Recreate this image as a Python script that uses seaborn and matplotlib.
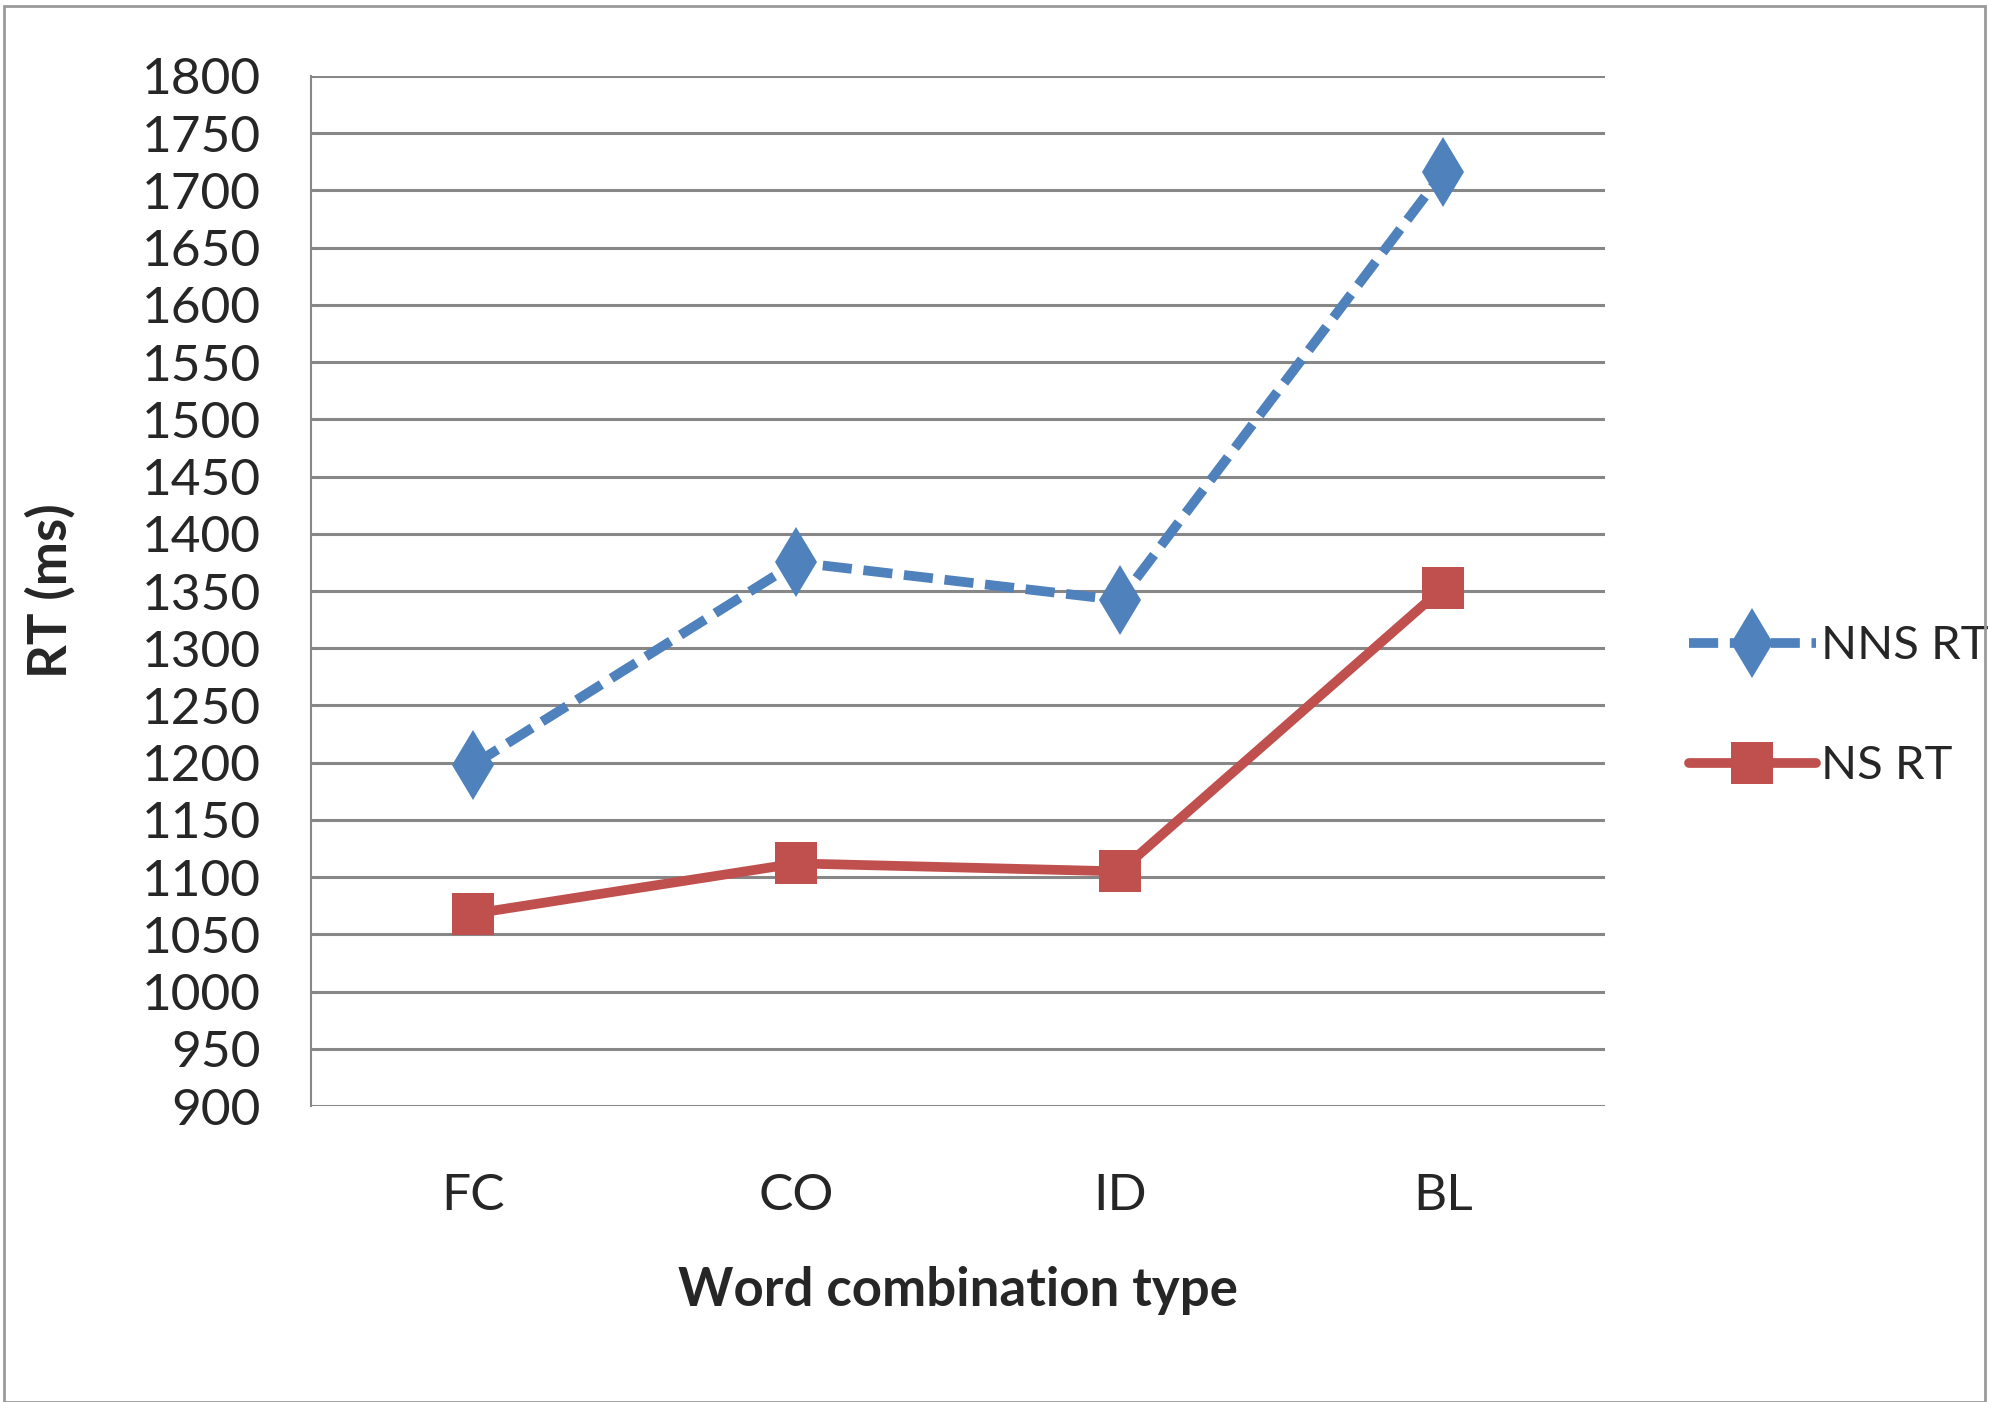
import pandas as pd
import matplotlib.pyplot as plt
import seaborn as sns
from matplotlib.patches import Rectangle

# values
word_types = ['FC', 'CO', 'ID', 'BL']
nns_rt = [1198, 1375, 1342, 1716]
ns_rt = [1068, 1112, 1105, 1353]
y_ticks = list(range(900, 1801, 50))

df = pd.DataFrame({
    'type': word_types * 2,
    'rt': nns_rt + ns_rt,
    'group': ['NNS RT'] * 4 + ['NS RT'] * 4,
})
df['pos'] = df['type'].map({t: i for i, t in enumerate(word_types)})

sns.set_style('white')
plt.rcParams['font.family'] = ['Lato', 'DejaVu Sans']

fig = plt.figure(figsize=(19.89, 14.02), dpi=100)
ax = fig.add_axes([0.1564, 0.2111, 0.6506, 0.7347])

# gridlines
for v in y_ticks:
    ax.axhline(v, color='#878787', lw=2.2, zorder=0)

sns.lineplot(data=df[df.group == 'NNS RT'], x='pos', y='rt', ax=ax,
             color='#4F81BD', lw=7, linestyle=(0, (3, 1.2)),
             marker='d', markersize=36, markeredgewidth=0,
             label='NNS RT', zorder=3)
sns.lineplot(data=df[df.group == 'NS RT'], x='pos', y='rt', ax=ax,
             color='#C0504D', lw=7, marker='s', markersize=30,
             markeredgewidth=0, label='NS RT', zorder=3)

ax.set_xlim(-0.5, 3.5)
ax.set_ylim(900, 1800)
ax.set_xticks(range(len(word_types)))
ax.set_xticklabels(word_types)
ax.set_yticks(y_ticks)
ax.tick_params(axis='y', length=0, pad=36, labelsize=37)
ax.tick_params(axis='x', length=0, pad=48, labelsize=37)

for s in ['top', 'right', 'bottom']:
    ax.spines[s].set_visible(False)
ax.spines['left'].set_color('#878787')
ax.spines['left'].set_linewidth(1.5)

ax.set_xlabel('Word combination type', fontsize=38, fontweight='bold', labelpad=34)
ax.set_ylabel('RT (ms)', fontsize=38, fontweight='bold', labelpad=48)

ax.legend(loc='center left', bbox_to_anchor=(1.05, 0.388), frameon=False,
          fontsize=34, handlelength=2.7, handletextpad=0.1, labelspacing=1.65,
          borderaxespad=0)

# outer frame of the picture
fig.patches.append(Rectangle((0.002, 0.0), 0.996, 0.996, transform=fig.transFigure,
                             fill=False, edgecolor='#9a9a9a', lw=2))

fig.savefig('out.png', dpi=100)
